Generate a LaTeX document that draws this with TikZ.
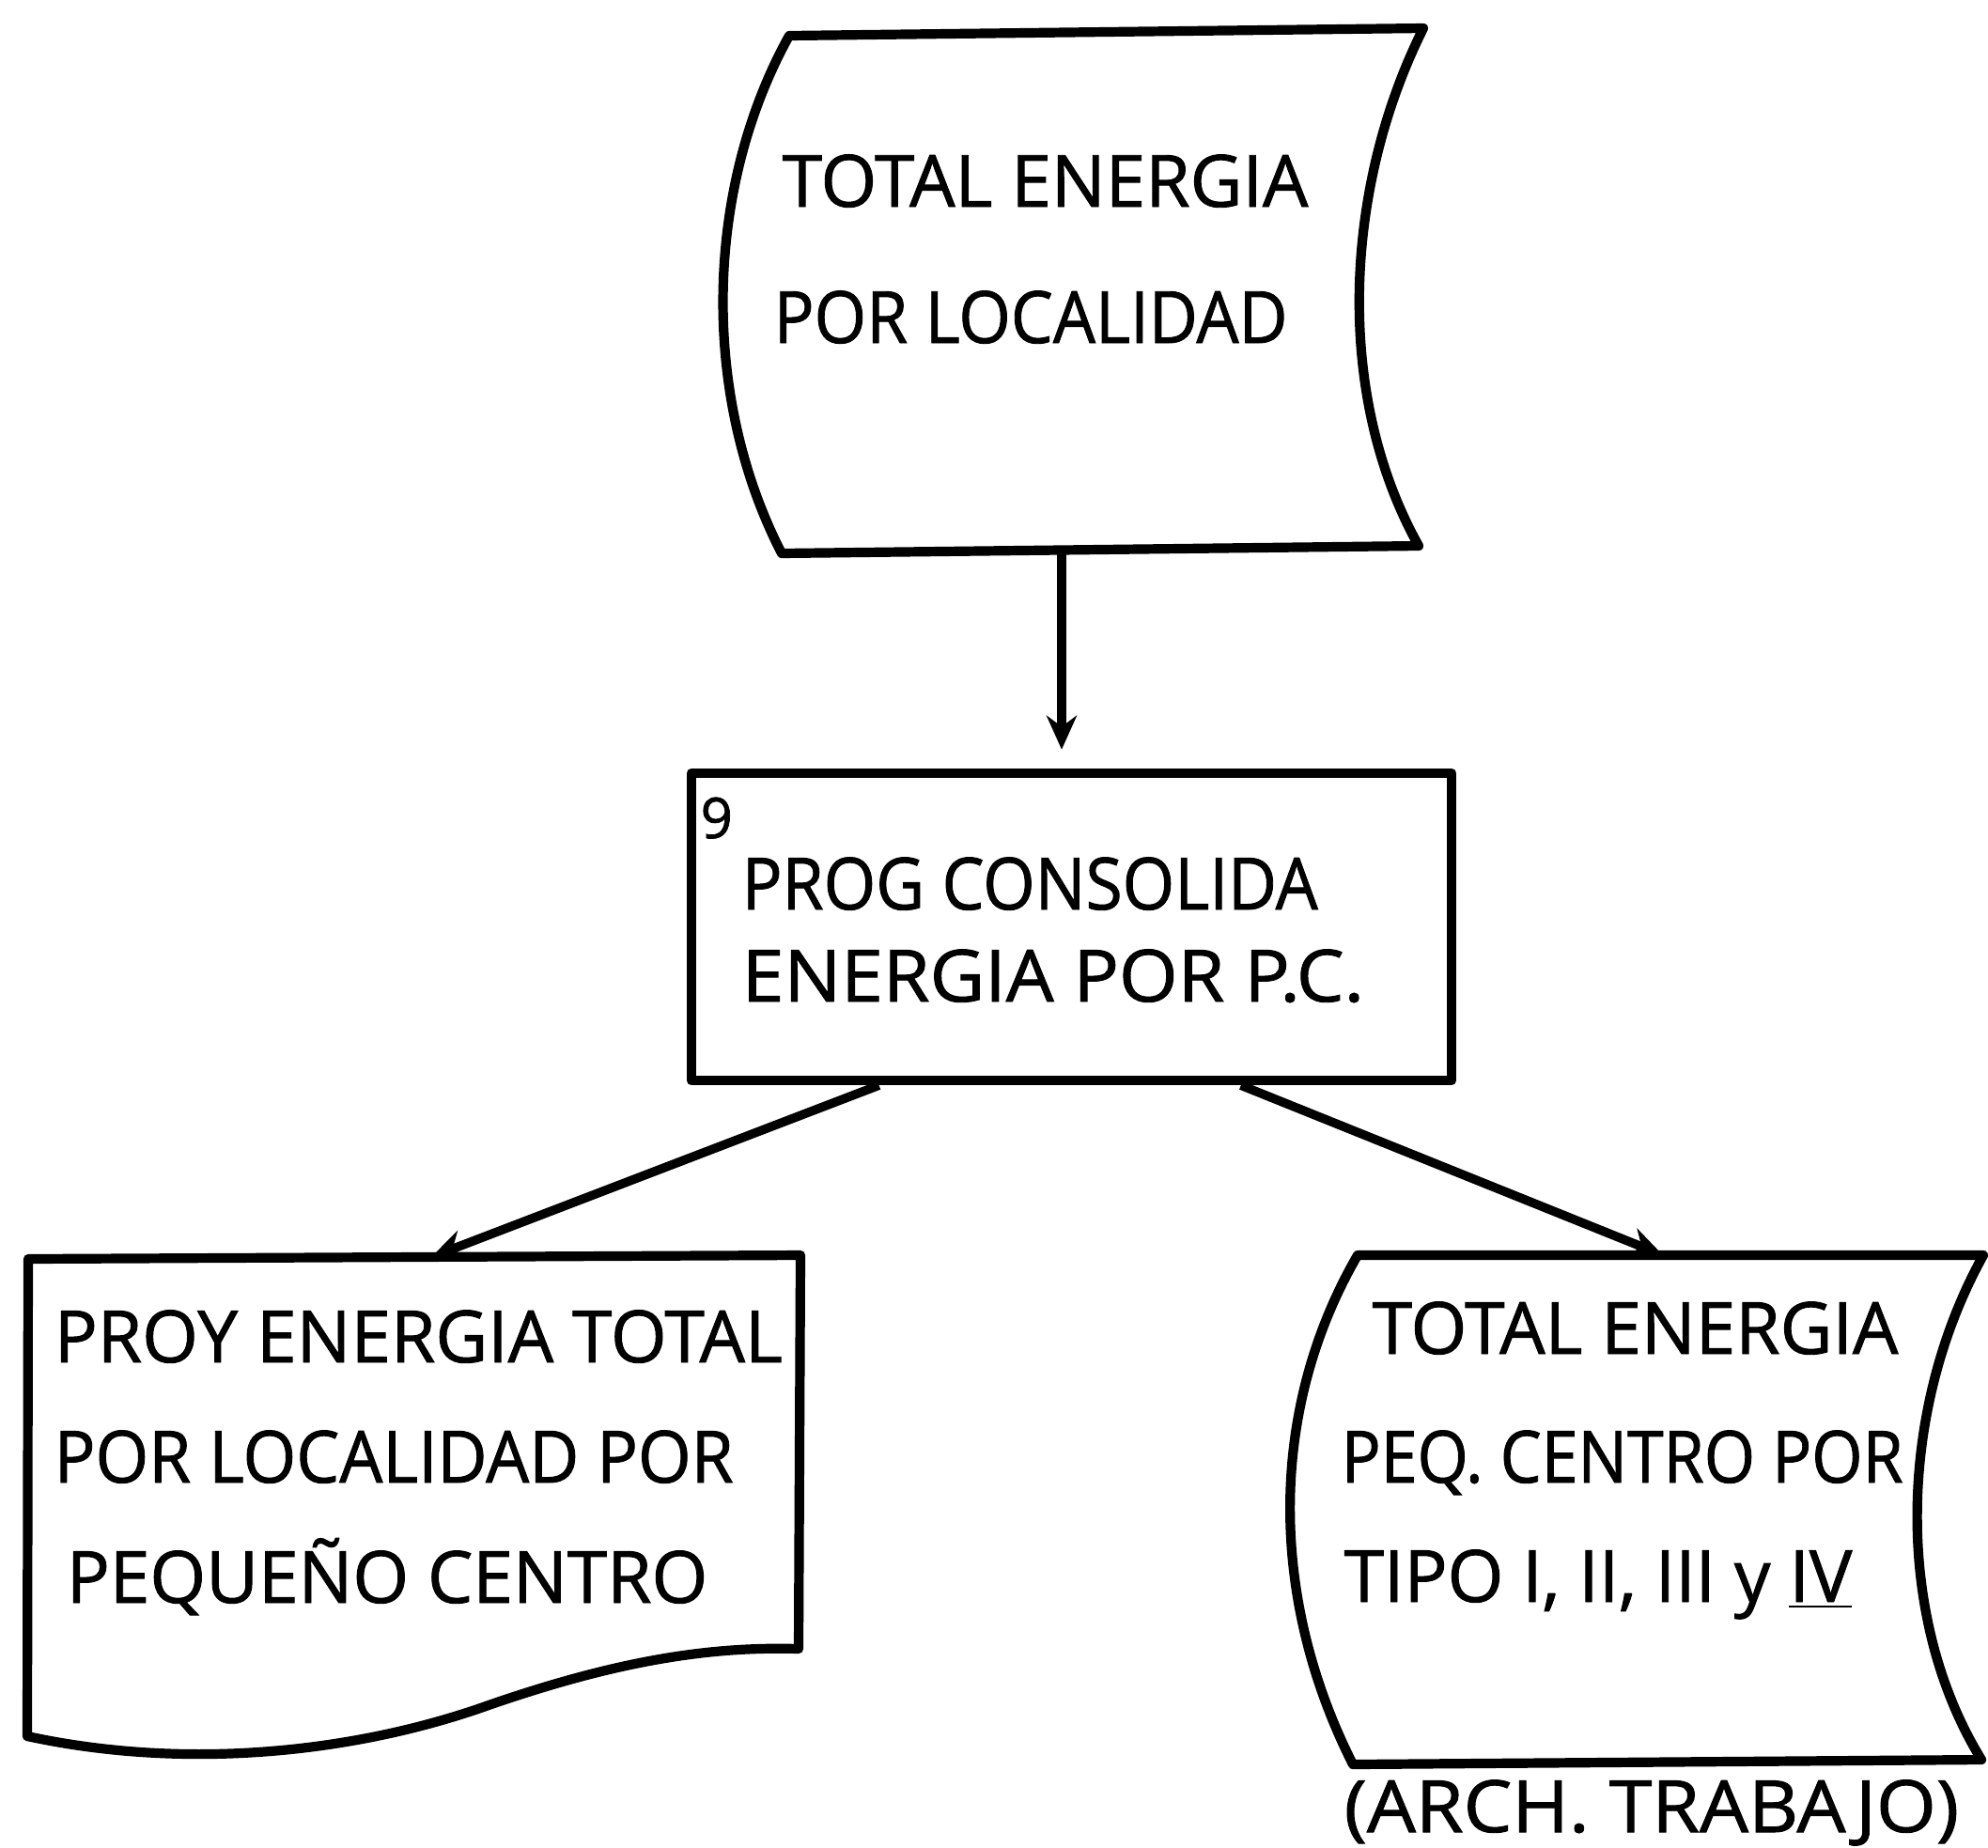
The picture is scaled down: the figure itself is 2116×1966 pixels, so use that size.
\documentclass[tikz,border=0pt]{standalone}
\usepackage{fontspec}
\setmainfont{Open Sans}
\newfontfamily\hw[FakeBold=1.2]{Open Sans}
\usetikzlibrary{arrows.meta,calc}
\begin{document}
\begin{tikzpicture}[x=0.01cm,y=-0.01cm,
  outline/.style={draw=black, line width=2.9pt, line join=round},
  lbl/.style={anchor=base west, inner sep=0pt, font=\hw\fontsize{21.8}{26}\selectfont},
  conn/.style={line width=2.7pt, -{Stealth[length=0.36cm,width=0.32cm]}},
]
\useasboundingbox (0,0) rectangle (2116,1966);

% ---- top stored-data shape
\draw[outline] (840,38) -- (1515,30)
  .. controls (1430,200) and (1420,420) .. (1510,581)
  -- (832,589)
  .. controls (745,420) and (750,200) .. (840,38) -- cycle;
\coordinate (topS) at (1130,589);
\node[lbl] (t1) at (832,220) {TOTAL ENERGIA};
\node[lbl] (t2) at (823,365) {\scalebox{0.93}[1]{POR LOCALIDAD}};

% ---- middle process box
\node[outline, rectangle, minimum width=8.09cm, minimum height=3.27cm, inner sep=0pt] (prog) at (1140.5,986.5) {};
\node[anchor=base west, inner sep=0pt, font=\hw\fontsize{17}{19}\selectfont] (pg) at (745,892) {9};
\node[lbl] (m1) at (789,968) {\scalebox{0.93}[1]{PROG CONSOLIDA}};
\node[lbl] (m2) at (789,1066) {\scalebox{1.05}[1]{ENERGIA POR P.C.}};

% ---- left document shape
\draw[outline] (30,1340) -- (852,1336) -- (850,1755)
  .. controls (750,1752) and (650,1770) .. (520,1815)
  .. controls (380,1865) and (200,1885) .. (29,1848) -- cycle;
\coordinate (leftN) at (459,1338);
\node[lbl] (l1) at (57,1450) {PROY ENERGIA TOTAL};
\node[lbl] (l2) at (57,1578) {\scalebox{0.95}[1]{POR LOCALIDAD POR}};
\node[lbl] (l3) at (70,1706) {PEQUEÑO CENTRO};

% ---- right stored-data shape
\draw[outline] (1445,1336) -- (2111,1336)
  .. controls (2020,1500) and (2015,1720) .. (2109,1873)
  -- (1440,1878)
  .. controls (1350,1700) and (1350,1500) .. (1445,1336) -- cycle;
\coordinate (rightN) at (1770,1336);
\node[lbl] (r1) at (1460,1441) {TOTAL ENERGIA};
\node[lbl] (r2) at (1427,1578) {\scalebox{0.91}[1]{PEQ. CENTRO POR}};
\node[lbl] (r3) at (1430,1705) {TIPO I, II, III y \underline{IV}};
\node[lbl] (r4) at (1430,1950) {\scalebox{1.07}[1]{(ARCH. TRABAJO)}};

% ---- connectors
\draw[conn, shorten >=0.2cm] (topS) -- (topS |- prog.north);
\draw[conn] ($(prog.south west)!0.25!(prog.south east)$) -- (leftN);
\draw[conn] ($(prog.south west)!0.72!(prog.south east)$) -- (rightN);
\end{tikzpicture}
\end{document}
